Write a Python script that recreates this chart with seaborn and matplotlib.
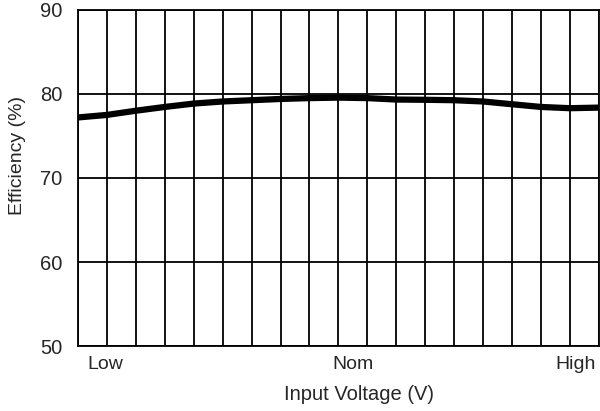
import matplotlib
matplotlib.use("Agg")
import matplotlib.pyplot as plt
import pandas as pd
import seaborn as sns

# input voltage steps (grid positions) and measured efficiency
voltage_step = list(range(19))
efficiency = [77.2, 77.5, 78.0, 78.45, 78.85, 79.1, 79.25, 79.4, 79.5, 79.56,
              79.5, 79.33, 79.3, 79.25, 79.1, 78.77, 78.45, 78.3, 78.37]

tick_positions = [0.96, 9.5, 17.2]
tick_labels = ["Low", "Nom", "High"]
y_ticks = [50, 60, 70, 80, 90]

df = pd.DataFrame({"step": voltage_step, "efficiency": efficiency})

sns.set_style("white")
plt.rcParams["font.family"] = ["Liberation Sans", "DejaVu Sans"]

fig = plt.figure(figsize=(6, 4.11), dpi=100)
ax = fig.add_axes([0.13, 0.158, 0.868, 0.818])

sns.lineplot(data=df, x="step", y="efficiency", color="black", linewidth=4.5, ax=ax)

ax.set_xlim(0, 18)
ax.set_ylim(50, 90)

ax.set_xticks(voltage_step)
ax.set_xticklabels([])
ax.set_xticks(tick_positions, minor=True)
ax.set_xticklabels(tick_labels, minor=True, fontsize=14)
ax.tick_params(axis="x", which="both", length=0)
ax.tick_params(axis="x", which="minor", pad=7)

ax.set_yticks(y_ticks)
ax.set_yticklabels([str(v) for v in y_ticks], fontsize=14.5)
ax.tick_params(axis="y", length=0, pad=11)

ax.grid(True, which="major", color="black", linewidth=1.3)
ax.set_axisbelow(True)
for spine in ax.spines.values():
    spine.set_color("black")
    spine.set_linewidth(1.3)

ax.set_xlabel("Input Voltage (V)", fontsize=14.5)
ax.set_ylabel("Efficiency (%)", fontsize=14)
ax.xaxis.set_label_coords(0.54, -0.115)
ax.yaxis.set_label_coords(-0.1, 0.568)

fig.savefig("out.png", dpi=100)
plt.close(fig)
